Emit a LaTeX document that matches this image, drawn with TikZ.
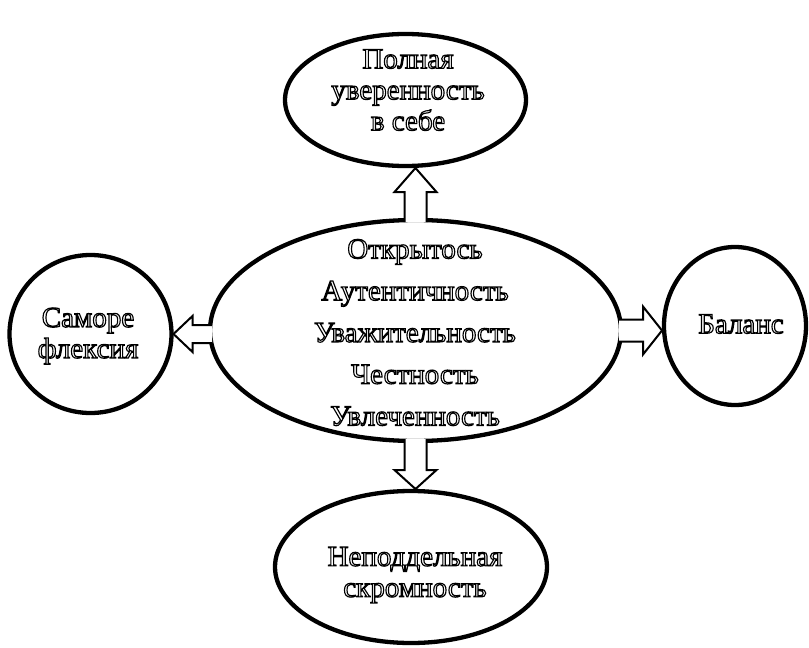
\documentclass[tikz,border=0pt]{standalone}
\usepackage{fontspec}
\setmainfont{Liberation Serif}
\usetikzlibrary{shapes.geometric,calc}
\newcommand{\outlinetext}[1]{\special{pdf:code 2 Tr 1.15 w 1 g 0 G}#1\special{pdf:code 0 Tr 0 g 0 G}}
\tikzset{
  shapeline/.style={draw=black, line width=4.3pt, ellipse, inner sep=0pt, outer sep=0pt},
  lbl/.style={font=\fontsize{29}{31}\selectfont, align=center, inner sep=0pt},
  lblwide/.style={font=\fontsize{29}{41.75}\selectfont, align=center, inner sep=0pt},
  blockarrow/.style={draw=black, line width=2pt, fill=white, line join=miter},
}
\begin{document}
\begin{tikzpicture}[x=1pt,y=-1pt]
\useasboundingbox (0,0) rectangle (809,648);
% shapes
\node[shapeline, minimum width=411pt, minimum height=221pt] (core) at (415.5,330.5) {};
\node[shapeline, minimum width=241pt, minimum height=132pt] (top) at (405.5,100) {};
\node[shapeline, minimum width=162pt, minimum height=158pt] (left) at (90.5,334) {};
\node[shapeline, minimum width=142pt, minimum height=158pt] (right) at (735,326) {};
\node[shapeline, minimum width=272pt, minimum height=152pt] (bottom) at (411,567) {};
% texts
\node[lbl] (toptext) at (408,90) {\outlinetext{Полная\\уверенность\\в себе}};
\node[lblwide] (coretext) at (415,332.5) {\outlinetext{Открытось\\Аутентичность\\Уважительность\\Честность\\Увлеченность}};
\node[lbl] (lefttext) at (88,336) {\outlinetext{Саморе\\флексия}};
\node[lbl] (righttext) at (741,324) {\outlinetext{Баланс}};
\node[lbl] (bottomtext) at (415,575) {\outlinetext{Неподдельная\\скромность}};
% block arrows
\coordinate (ut) at (core.north |- top.south);
\draw[blockarrow] ($(core.north)+(-11,2)$) -- ($(ut)+(-11,26)$) -- ($(ut)+(-21,26)$) -- ($(ut)+(0,2)$) -- ($(ut)+(21,26)$) -- ($(ut)+(11,26)$) -- ($(core.north)+(11,2)$);
\coordinate (dt) at (core.south |- bottom.north);
\draw[blockarrow] ($(core.south)+(-11,-2)$) -- ($(dt)+(-11,-21)$) -- ($(dt)+(-21,-21)$) -- ($(dt)+(0,-2)$) -- ($(dt)+(21,-21)$) -- ($(dt)+(11,-21)$) -- ($(core.south)+(11,-2)$);
\coordinate (lw) at (core.west |- left.east);
\draw[blockarrow] ($(lw)+(2,-9)$) -- ($(left.east)+(21,-9)$) -- ($(left.east)+(21,-18)$) -- ($(left.east)+(2,0)$) -- ($(left.east)+(21,18)$) -- ($(left.east)+(21,9)$) -- ($(lw)+(2,9)$);
\coordinate (rw) at (right.west |- core.east);
\draw[blockarrow] ($(core.east)+(-2,-11)$) -- ($(rw)+(-21,-11)$) -- ($(rw)+(-21,-24)$) -- ($(rw)+(-2,0)$) -- ($(rw)+(-21,24)$) -- ($(rw)+(-21,11)$) -- ($(core.east)+(-2,11)$);
\end{tikzpicture}
\end{document}
